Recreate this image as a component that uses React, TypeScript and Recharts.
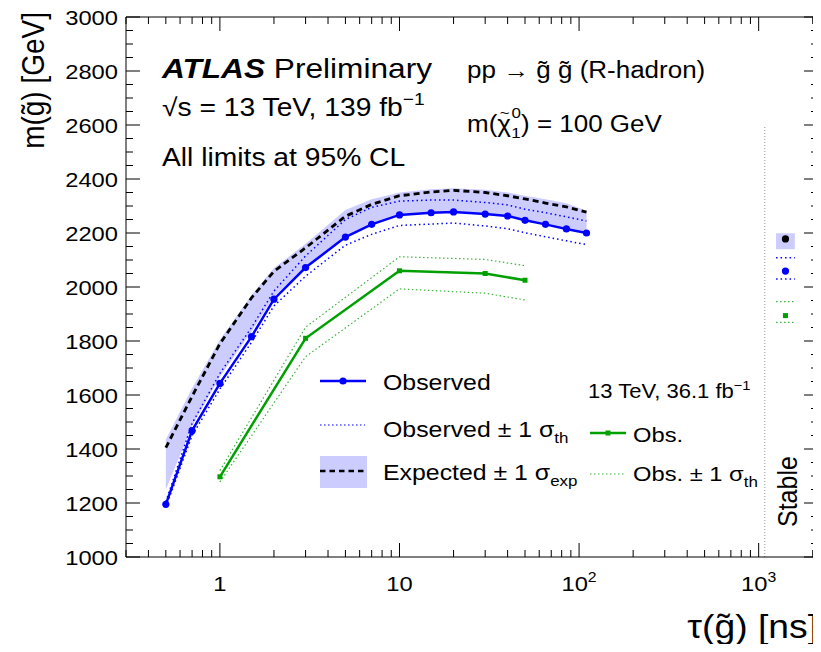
import React from "react"
import { ComposedChart, Line, Area, XAxis, YAxis } from "recharts"

// lifetime points [ns] of the 139 fb-1 limits
const tauObs = [0.5, 0.7, 1, 1.5, 2, 3, 5, 7, 10, 15, 20, 30, 40, 50, 65, 85, 110]
const mObs = [1195, 1468, 1643, 1816, 1955, 2072, 2185, 2232, 2267, 2275, 2278, 2270, 2263, 2247, 2232, 2215, 2200]
const mObsUp = [1205, 1495, 1680, 1850, 1985, 2115, 2250, 2295, 2318, 2322, 2322, 2313, 2304, 2288, 2275, 2260, 2244]
const mObsDn = [1185, 1450, 1622, 1795, 1930, 2040, 2155, 2195, 2228, 2233, 2237, 2226, 2216, 2201, 2186, 2171, 2157]
const mExp = [1405, 1595, 1790, 1960, 2058, 2145, 2262, 2306, 2338, 2352, 2358, 2350, 2338, 2326, 2311, 2297, 2277]
const mExpLo = [1250, 1485, 1668, 1835, 1965, 2075, 2188, 2235, 2267, 2275, 2280, 2272, 2264, 2250, 2236, 2220, 2205]
const mExpHi = [1435, 1625, 1805, 1970, 2070, 2160, 2285, 2325, 2350, 2362, 2366, 2360, 2350, 2338, 2325, 2310, 2282]

// 13 TeV 36.1 fb-1 result
const tau36 = [1, 3, 10, 30, 50]
const m36 = [1297, 1810, 2060, 2050, 2025]
const m36Up = [1320, 1851, 2112, 2102, 2079]
const m36Dn = [1278, 1742, 1993, 1977, 1952]

// stable R-hadron points (drawn right of the boundary)
const stableBoundaryTau = 1080
const stableBoundaryM = [1000, 2600]
const stableSpan = [1250, 1590]
const stableMid = 1410
const stableExp = 2178
const stableExpBand = [2140, 2199]
const stableObs = 2059
const stableObsBand = [2030, 2108]
const stable36 = 1894
const stable36Band = [1869, 1946]

const yTicks = [
  1000, 1050, 1100, 1150, 1200, 1250, 1300, 1350, 1400, 1450, 1500, 1550, 1600, 1650, 1700, 1750, 1800, 1850,
  1900, 1950, 2000, 2050, 2100, 2150, 2200, 2250, 2300, 2350, 2400, 2450, 2500, 2550, 2600, 2650, 2700, 2750,
  2800, 2850, 2900, 2950, 3000,
]
const xTicks = [
  0.3, 0.4, 0.5, 0.6, 0.7, 0.8, 0.9, 1, 2, 3, 4, 5, 6, 7, 8, 9, 10, 20, 30, 40, 50, 60, 70, 80, 90, 100, 200, 300,
  400, 500, 600, 700, 800, 900, 1000, 2000,
]
const xMajor = [1, 10, 100, 1000]
const xLabels: Record<number, string[]> = { 1: ["1"], 10: ["10"], 100: ["10", "2"], 1000: ["10", "3"] }

const FONT = "'Liberation Sans', Arial, Helvetica, sans-serif"
const SX = 1.13
const BLUE = "#0000ff"
const BAND = "#ccccff"
const GREEN = "#00a000"
const GREEN_DOT = "#3cb43c"

const pts = (xs: number[], ys: number[]) => xs.map((x, i) => ({ x, y: ys[i] }))
const obsData = pts(tauObs, mObs)
const obsUpData = pts(tauObs, mObsUp)
const obsDnData = pts(tauObs, mObsDn)
const expData = pts(tauObs, mExp)
const bandData = tauObs.map((x, i) => ({ x, band: [mExpLo[i], mExpHi[i]] }))
const d36 = pts(tau36, m36)
const d36Up = pts(tau36, m36Up)
const d36Dn = pts(tau36, m36Dn)
const boundary = stableBoundaryM.map((y) => ({ x: stableBoundaryTau, y }))
const flat = (y: number) => stableSpan.map((x) => ({ x, y }))
const stableBand = stableSpan.map((x) => ({ x, band: stableExpBand }))

function T({ x, y, size, anchor = "start", rot = 0, weight = "normal", italic = false, children }: any) {
  const tr = `translate(${x},${y}) scale(${SX},1)` + (rot ? ` rotate(${rot})` : "")
  return (
    <text
      transform={tr}
      fontSize={size}
      fontFamily={FONT}
      textAnchor={anchor}
      fontWeight={weight}
      fontStyle={italic ? "italic" : "normal"}
      fill="#000"
    >
      {children}
    </text>
  )
}

const isMajorY = (v: number) => v % 200 === 0
const isMajorX = (v: number) => xMajor.includes(v)

const LeftTick = (p: any) => {
  const v = p.payload.value
  return (
    <g>
      <line x1={p.x} x2={p.x + (isMajorY(v) ? 14 : 7)} y1={p.y} y2={p.y} stroke="#000" />
      {isMajorY(v) && (
        <T x={p.x - 8} y={p.y + 7.5} size={21} anchor="end">
          {v}
        </T>
      )}
    </g>
  )
}
const RightTick = (p: any) => {
  const v = p.payload.value
  return <line x1={p.x} x2={p.x - (isMajorY(v) ? 14 : 7)} y1={p.y} y2={p.y} stroke="#000" />
}
const BottomTick = (p: any) => {
  const v = p.payload.value
  const lab = xLabels[v]
  return (
    <g>
      <line x1={p.x} x2={p.x} y1={p.y} y2={p.y - (isMajorX(v) ? 14 : 7)} stroke="#000" />
      {lab && (
        <T x={p.x} y={p.y + 34} size={21} anchor="middle">
          {lab[0]}
          {lab[1] && (
            <tspan dy={-9} fontSize={14}>
              {lab[1]}
            </tspan>
          )}
        </T>
      )}
    </g>
  )
}
const TopTick = (p: any) => {
  const v = p.payload.value
  return <line x1={p.x} x2={p.x} y1={p.y} y2={p.y + (isMajorX(v) ? 14 : 7)} stroke="#000" />
}

const blueDot = (p: any) => <circle key={`b${p.index}`} cx={p.cx} cy={p.cy} r={3.6} fill={BLUE} />
const blackDot = (p: any) => <circle key={`k${p.index}`} cx={p.cx} cy={p.cy} r={3.6} fill="#000" />
const greenSq = (p: any) => <rect key={`g${p.index}`} x={p.cx - 2.5} y={p.cy - 2.5} width={5} height={5} fill={GREEN} />

const common = { xAxisId: "b", yAxisId: "l", isAnimationActive: false, activeDot: false as const, type: "linear" as const }
const SUB = 15

export default function App() {
  // the chart svg starts at the page top (cancels the body margin), so page y == svg y
  return (
    <div style={{ position: "relative", marginTop: -8, width: 813, height: 644 }}>
      <ComposedChart width={813} height={644} margin={{ top: 16, right: 0, bottom: 0, left: 0 }}>
        <XAxis
          xAxisId="b"
          type="number"
          dataKey="x"
          scale="log"
          domain={[0.3, 2140]}
          allowDataOverflow
          ticks={xTicks}
          interval={0}
          height={87}
          tickSize={0}
          tickMargin={0}
          tick={BottomTick}
          axisLine={{ stroke: "#000" }}
        />
        <XAxis
          xAxisId="t"
          orientation="top"
          type="number"
          dataKey="x"
          scale="log"
          domain={[0.3, 2140]}
          allowDataOverflow
          ticks={xTicks}
          interval={0}
          height={1}
          tickSize={0}
          tickMargin={0}
          tick={TopTick}
          axisLine={{ stroke: "#000" }}
        />
        <YAxis
          yAxisId="l"
          type="number"
          domain={[1000, 3000]}
          allowDataOverflow
          ticks={yTicks}
          interval={0}
          width={118}
          tickSize={0}
          tickMargin={0}
          tick={LeftTick}
          axisLine={{ stroke: "#000" }}
        />
        <YAxis
          yAxisId="r"
          orientation="right"
          type="number"
          domain={[1000, 3000]}
          allowDataOverflow
          ticks={yTicks}
          interval={0}
          width={3}
          tickSize={0}
          tickMargin={0}
          tick={RightTick}
          axisLine={{ stroke: "#000" }}
        />

        <Area {...common} data={bandData} dataKey="band" fill={BAND} fillOpacity={1} stroke="none" />
        <Area {...common} data={stableBand} dataKey="band" fill={BAND} fillOpacity={1} stroke="none" />

        <Line {...common} data={boundary} dataKey="y" stroke="#b4b4b4" strokeWidth={1.5} strokeDasharray="1 2" dot={false} />

        <Line {...common} data={d36Up} dataKey="y" stroke={GREEN_DOT} strokeWidth={1.2} strokeDasharray="1.5 2.5" dot={false} />
        <Line {...common} data={d36Dn} dataKey="y" stroke={GREEN_DOT} strokeWidth={1.2} strokeDasharray="1.5 2.5" dot={false} />
        <Line {...common} data={d36} dataKey="y" stroke={GREEN} strokeWidth={2.5} dot={greenSq} />

        <Line {...common} data={obsUpData} dataKey="y" stroke={BLUE} strokeWidth={1.5} strokeDasharray="1.5 3" dot={false} />
        <Line {...common} data={obsDnData} dataKey="y" stroke={BLUE} strokeWidth={1.5} strokeDasharray="1.5 3" dot={false} />
        <Line {...common} data={expData} dataKey="y" stroke="#000" strokeWidth={2.8} strokeDasharray="6 4" dot={false} />
        <Line {...common} data={obsData} dataKey="y" stroke={BLUE} strokeWidth={2.5} dot={blueDot} />

        <Line {...common} data={flat(stableObsBand[0])} dataKey="y" stroke={BLUE} strokeWidth={1.5} strokeDasharray="1.5 3" dot={false} />
        <Line {...common} data={flat(stableObsBand[1])} dataKey="y" stroke={BLUE} strokeWidth={1.5} strokeDasharray="1.5 3" dot={false} />
        <Line {...common} data={flat(stable36Band[0])} dataKey="y" stroke={GREEN_DOT} strokeWidth={1.2} strokeDasharray="1.5 2.5" dot={false} />
        <Line {...common} data={flat(stable36Band[1])} dataKey="y" stroke={GREEN_DOT} strokeWidth={1.2} strokeDasharray="1.5 2.5" dot={false} />
        <Line {...common} data={[{ x: stableMid, y: stableExp }]} dataKey="y" stroke="none" dot={blackDot} />
        <Line {...common} data={[{ x: stableMid, y: stableObs }]} dataKey="y" stroke="none" dot={blueDot} />
        <Line {...common} data={[{ x: stableMid, y: stable36 }]} dataKey="y" stroke="none" dot={greenSq} />
      </ComposedChart>

      <svg
        width={821}
        height={652}
        style={{ position: "absolute", left: -8, top: 0, pointerEvents: "none", overflow: "visible" }}
      >
        {/* axis titles */}
        <T x={44} y={12} size={28} anchor="end" rot={-90}>
          m(g{"\u0303"}) [GeV]
        </T>
        <T x={818} y={638} size={33} anchor="end">
          τ(g{"\u0303"}) [ns]
        </T>

        {/* labels */}
        <T x={162} y={78} size={28}>
          <tspan fontWeight="bold" fontStyle="italic">ATLAS</tspan> Preliminary
        </T>
        <T x={162} y={116} size={25}>
          √s = 13 TeV, 139 fb
          <tspan dy={-11} fontSize={17}>−1</tspan>
        </T>
        <T x={162} y={166} size={25}>
          All limits at 95% CL
        </T>
        <T x={467} y={78} size={23}>
          pp → g{"\u0303"} g{"\u0303"} (R-hadron)
        </T>
        <T x={467} y={132} size={23}>
          m(χ
          <tspan dx={-10} dy={-14} fontSize={15}>~</tspan>
          <tspan dx={1.5} dy={20} fontSize={SUB}>1</tspan>
          <tspan dx={-8} dy={-20} fontSize={SUB}>0</tspan>
          <tspan dy={14}>) = 100 GeV</tspan>
        </T>
        <T x={797} y={527} size={25} rot={-90}>
          Stable
        </T>

        {/* legend, 139 fb-1 */}
        <line x1={320} x2={366} y1={381} y2={381} stroke={BLUE} strokeWidth={2.5} />
        <circle cx={343} cy={381} r={3.6} fill={BLUE} />
        <T x={383} y={390} size={22}>Observed</T>

        <line x1={320} x2={365} y1={425} y2={425} stroke={BLUE} strokeWidth={1.2} strokeDasharray="1.5 2.5" />
        <T x={383} y={437} size={22}>
          Observed ± 1 σ<tspan dy={6} fontSize={SUB}>th</tspan>
        </T>

        <rect x={320} y={456} width={47} height={32} fill={BAND} />
        <line x1={320} x2={367} y1={471} y2={471} stroke="#000" strokeWidth={2.5} strokeDasharray="5.5 4" />
        <T x={383} y={480} size={22}>
          Expected ± 1 σ<tspan dy={6} fontSize={SUB}>exp</tspan>
        </T>

        {/* legend, 36.1 fb-1 */}
        <T x={588} y={398} size={19.5}>
          13 TeV, 36.1 fb<tspan dy={-8} fontSize={13}>−1</tspan>
        </T>
        <line x1={590} x2={626} y1={433} y2={433} stroke={GREEN} strokeWidth={2.5} />
        <rect x={605.5} y={430.5} width={5} height={5} fill={GREEN} />
        <T x={633} y={442} size={21}>Obs.</T>

        <line x1={590} x2={625} y1={474} y2={474} stroke={GREEN_DOT} strokeWidth={1.2} strokeDasharray="1.5 2.5" />
        <T x={633} y={481} size={21}>
          Obs. ± 1 σ<tspan dy={6} fontSize={SUB}>th</tspan>
        </T>
      </svg>
    </div>
  )
}
